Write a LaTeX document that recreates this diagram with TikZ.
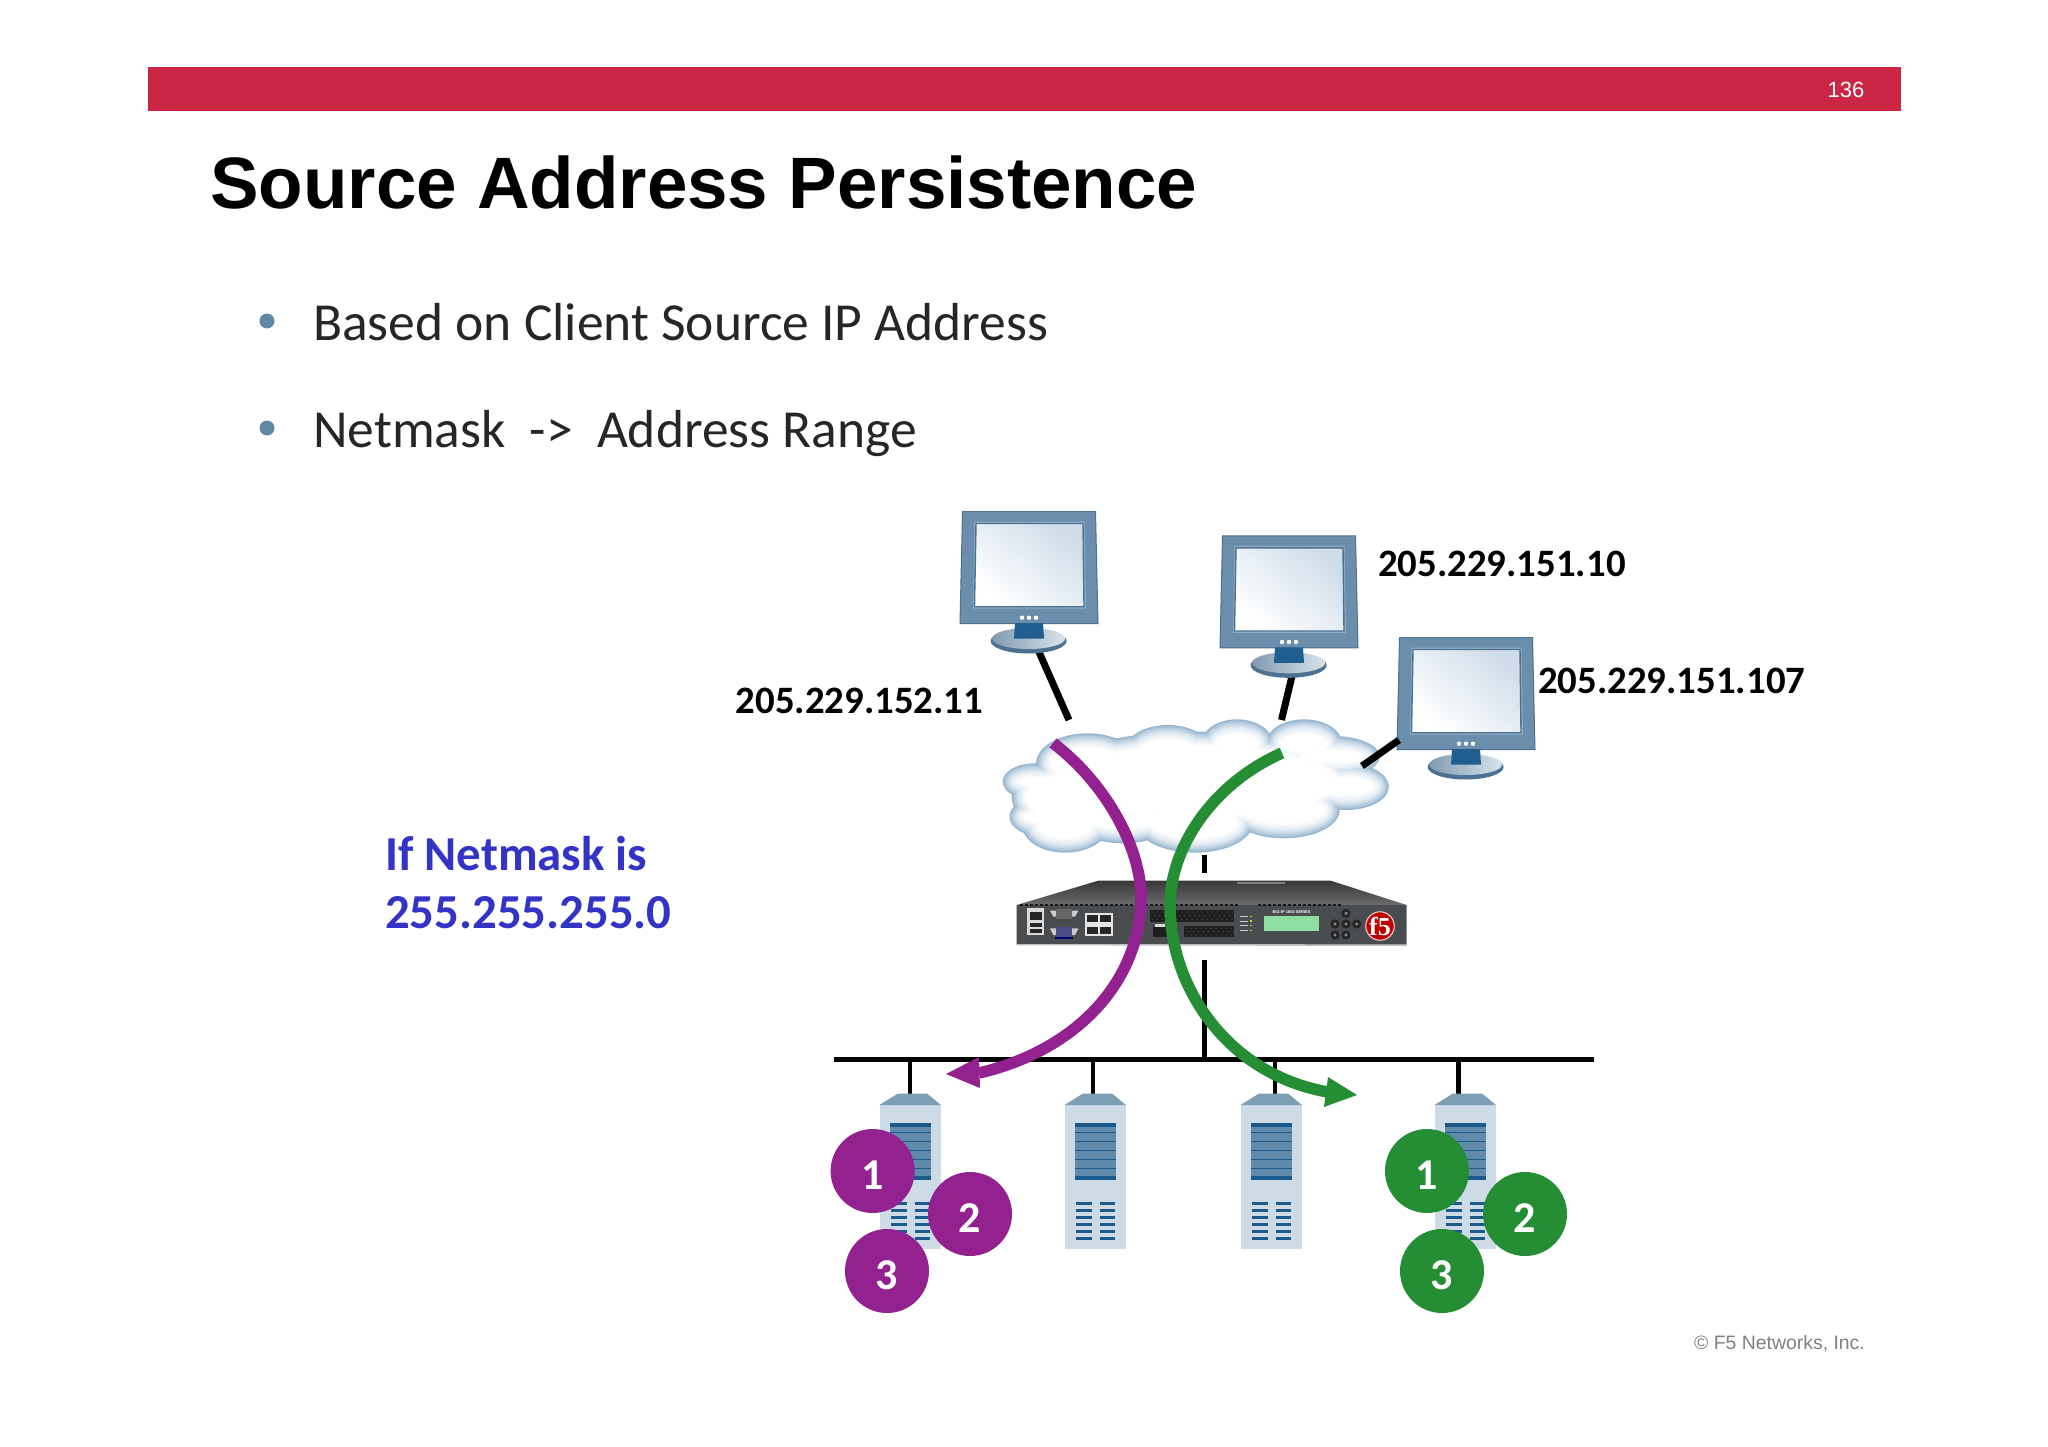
\documentclass[tikz,border=0pt]{standalone}
\usepackage{fontspec}
\setmainfont{Carlito}
\newfontfamily\arialf{Liberation Sans}
\newfontfamily\timesf{Liberation Serif}
\usetikzlibrary{calc}
\definecolor{barred}{HTML}{CB2744}
\definecolor{bodytext}{HTML}{262626}
\definecolor{bulletblue}{HTML}{5F88A3}
\definecolor{maskblue}{HTML}{3333C6}
\definecolor{flowpurple}{HTML}{93218F}
\definecolor{flowgreen}{HTML}{258E34}
\definecolor{monframe}{HTML}{6A8EAB}
\definecolor{monedge}{HTML}{4C7191}
\definecolor{monband}{HTML}{8FADC3}
\definecolor{monneck}{HTML}{1F5E8E}
\definecolor{cloudblue}{HTML}{7FA6C6}
\definecolor{srvbody}{HTML}{CCDBE6}
\definecolor{srvhat}{HTML}{7C9FB5}
\definecolor{srvpanel}{HTML}{5F8AAB}
\definecolor{srvline}{HTML}{1D5A8C}
\definecolor{boxfront}{HTML}{4A4D50}
\definecolor{copygray}{HTML}{808080}
\definecolor{lcdfill}{HTML}{8FDDA0}
\newcommand\badgedigit[1]{\raisebox{-18pt}[0pt][0pt]{#1}}
\tikzset{
  x=1pt,y=-1pt,
  txt/.style={inner sep=0pt,anchor=base west},
  iplabel/.style={txt,font=\fontsize{38.8}{38.8}\selectfont\bfseries,text=black},
  masklabel/.style={txt,font=\fontsize{48.8}{48.8}\selectfont\bfseries,text=maskblue},
  bullettext/.style={txt,font=\fontsize{53.5}{53.5}\selectfont,text=bodytext},
  bulletdot/.style={circle,fill=bulletblue,inner sep=0pt,minimum size=15pt},
  wire/.style={draw=black,line width=7pt},
  thin wire/.style={draw=black,line width=4.5pt},
  flowp/.style={draw=flowpurple,line width=11.5pt},
  flowg/.style={draw=flowgreen,line width=11.5pt},
  badge/.style={circle,inner sep=0pt,minimum size=84pt,text=white,font=\fontsize{44}{44}\selectfont\bfseries},
}
\newcommand\monitorat[2]{%
  \begin{scope}[shift={(#1,#2)}]
    \fill[monframe,draw=monedge,line width=1pt] (962.5,511.5)--(1095.5,511.5)--(1098,623.5)--(960,623.5)--cycle;
    \fill[monband] (974.5,521.5)--(1084.5,521.5)--(1086,608.5)--(973,608.5)--cycle;
    \shade[shading=axis,left color=cloudblue!38!white,right color=white,shading angle=-40,draw=monedge,line width=1.4pt]
      (976,523.5)--(1083,523.5)--(1084,606.7)--(974.5,606.7)--cycle;
    \foreach \dx in {1022,1029,1036}{\fill[white] (\dx,617.7) circle (2.2);}
    \fill[monedge] (1028.6,641) ellipse [x radius=38,y radius=12.5];
    \shade[left color=monedge!70!white,right color=monband!35!white] (1028.6,638.5) ellipse [x radius=36.5,y radius=10.5];
    \fill[monneck] (1015,623)--(1043,623)--(1044,638.5)--(1014,638.5)--cycle;
  \end{scope}}
\newcommand\cloudlayer[2]{%
  \foreach \X/\Y/\RX/\RY in {420/850/115/90,300/905/70/55,320/1010/75/60,370/1040/95/78,500/1020/110/70,660/1030/130/88,
    860/990/125/85,1000/920/95/70,970/830/105/62,905/790/85/72,755/790/80/72,600/810/95/75,660/905/350/150,
    420/950/170/120}{%
    \fill[#2] (\X,\Y) ellipse [x radius={max(\RX-2.24*#1,1)},y radius={max(\RY-3*#1,1)}];}}
\newcommand\serverat[1]{%
  \begin{scope}[shift={(#1,1.5)}]
    \fill[srvbody] (1064.5,1103) rectangle (1126,1247.7);
    \fill[srvhat] (1083,1092)--(1112,1092)--(1126,1103.5)--(1064.5,1103.5)--cycle;
    \fill[srvpanel] (1075,1121) rectangle (1115.5,1178);
    \fill[srvline] (1075,1121) rectangle (1115.5,1125);
    \fill[srvline] (1075,1174.5) rectangle (1115.5,1178);
    \foreach \yy in {1130,1139,1148,1157,1166}{\fill[srvline] (1075,\yy) rectangle (1115.5,\yy+1.6);}
    \foreach \yy in {1200.2,1207.2,1214.2,1221.2,1228.2,1235.2}{
      \fill[srvline] (1076.4,\yy) rectangle (1091.6,\yy+3.6);
      \fill[srvline] (1099.7,\yy) rectangle (1115.4,\yy+3.6);}
  \end{scope}}
\begin{document}
\begin{tikzpicture}
\useasboundingbox (0,0) rectangle (2048,1447);
\fill[white] (0,0) rectangle (2048,1447);
% header
\node[fill=barred,inner sep=0pt,minimum width=1753pt,minimum height=43.5pt,anchor=north west] (bar) at (148,67) {};
\node[inner sep=0pt,text=white,font=\arialf\fontsize{22}{22}\selectfont] (page) at (1846,89.5) {136};
\node[txt,font=\arialf\fontsize{72.8}{72.8}\selectfont\bfseries,text=black] (title) at (210,209) {Source Address Persistence};
% bullets
\node[bulletdot] (dot1) at (267,321) {};
\node[bullettext] (b1) at (313,340) {Based on Client Source IP Address};
\node[bulletdot] (dot2) at (267,428) {};
\node[bullettext] (b2) at (313,447) {Netmask\ \ ->\ \ Address Range};
% mask text
\node[masklabel] (m1) at (385,870) {If Netmask is};
\node[masklabel] (m2) at (385,928) {255.255.255.0};
% wires
\coordinate (m1foot) at (1039,652);
\coordinate (m1cloud) at (1069,720);
\coordinate (m2foot) at (1292,676);
\coordinate (m2cloud) at (1281.5,720);
\coordinate (m3side) at (1399,740);
\coordinate (m3cloud) at (1362,766);
\path[wire] (m1foot)--(m1cloud);
\path[wire] (m2foot)--(m2cloud);
% monitors
\monitorat{0}{0}
\monitorat{260}{24.3}
\monitorat{437}{126}
% cloud
\begin{scope}[shift={(900,480)},xscale=0.44643,yscale=0.33333]
  \foreach \ins/\c in {0/82,1.25/70,2.5/59,3.75/49,5/40,6.25/32,7.5/25,8.75/19,10/14,11.25/10,12.5/6,13.75/3,15/0}{
    \cloudlayer{\ins}{cloudblue!\c!white}}
\end{scope}
\path[wire] (m3side)--(m3cloud);
% centre line and bus
\coordinate (cloudlow) at (1204.5,855);
\coordinate (boxtop) at (1204.5,873);
\coordinate (boxlow) at (1204.5,960);
\coordinate (busjoin) at (1204.5,1059.5);
\coordinate (busl) at (834,1059.5);
\coordinate (busr) at (1594,1059.5);
\draw[black,line width=5pt] (cloudlow)--(boxtop);
\draw[black,line width=5pt] (boxlow)--(busjoin);
\draw[black,line width=5.5pt] (busl)--(busr);
\foreach \dropx/\dn in {910/a,1093/b,1275/c,1458.5/d}{
  \coordinate (drop\dn) at (\dropx,1059.5);
  \coordinate (srvtop\dn) at (\dropx,1094.5);
  \path[thin wire] (drop\dn)--(srvtop\dn);}
% servers
\serverat{-185}
\serverat{0}
\serverat{176}
\serverat{370}
% F5 box
\begin{scope}[shift={(1000,870)},xscale=0.33333,yscale=0.33333]
  \shade[top color=black!78,bottom color=black!58] (295,32)--(992,32)--(1220,105)--(50,105)--cycle;
  \fill[black!50] (710,35) rectangle (855,42);
  \fill[boxfront] (50,105)--(1220,105)--(1220,224)--(50,222)--cycle;
  \fill[black!25] (50,222)--(1220,224)--(1220,228)--(50,226)--cycle;
  \foreach \a/\b in {60/445,450/715,775/1025}{
    \draw[black!90,line width=1.5pt,dash pattern=on 3pt off 2pt] (\a,105)--(\b,105);}
  % mgmt ports
  \fill[black!15] (82,115) rectangle (132,196);
  \fill[black!85] (90,125) rectangle (125,150);
  \fill[black!85] (90,158) rectangle (125,170);
  \fill[black!85] (90,176) rectangle (125,190);
  % serial ports
  \fill[black!20] (150,122)--(235,122)--(225,140)--(160,140)--cycle;
  \fill[black!60] (168,117) rectangle (215,146);
  \fill[black!20] (150,175)--(235,175)--(225,195)--(160,195)--cycle;
  \fill[blue!30!black!70] (168,170) rectangle (215,200);
  \fill[blue!45!black] (165,200) rectangle (218,206);
  % copper ports
  \fill[black!10] (255,128) rectangle (338,197);
  \foreach \px/\py in {260/134,300/134,260/170,300/170}{\fill[black!85] (\px,\py) rectangle (\px+33,\py+22);}
  % grids
  \fill[black!88] (450,120) rectangle (702,155);
  \fill[black!88] (552,167) rectangle (702,200);
  \fill[black!88] (458,172) rectangle (530,202);
  \fill[black!15] (465,163) rectangle (495,170);
  \foreach \gx in {456,471,...,696}{
    \fill[black!55] (\gx,126) circle (1.5);
    \fill[black!55] (\gx+7,137) circle (1.5);
    \fill[black!55] (\gx,148) circle (1.5);}
  \foreach \gx in {558,573,...,696}{
    \fill[black!55] (\gx,175) circle (1.5);
    \fill[black!55] (\gx+7,185) circle (1.5);
    \fill[black!55] (\gx,195) circle (1.5);}
  % LEDs
  \foreach \ly in {140,153,167,181}{
    \fill[black!20] (720,\ly-1) rectangle (745,\ly+2);
    \fill[yellow!75!green] (751,\ly-2) rectangle (757,\ly+2);}
  % LCD
  \fill[lcdfill] (793,138) rectangle (958,183);
  % buttons
  \foreach \bx/\by in {1038/130,1005/162,1038/162,1070/162,1005/195,1038/195}{
    \fill[black!85] (\bx,\by) circle (14);
    \fill[black!45] (\bx,\by) circle (5);}
\end{scope}
\node[inner sep=0pt,text=white,font=\arialf\fontsize{4}{4}\selectfont\bfseries] (model) at (1291.5,912) {BIG-IP 1600 SERIES};
\node[circle,fill=red!75!black,draw=white!85!red,line width=1pt,minimum size=27pt,inner sep=0pt,
  text=white,font=\timesf\fontsize{26}{26}\selectfont\bfseries] (f5logo) at (1380,926) {f5};
% flows
\coordinate (pstart) at (1053,743);
\coordinate (pmid) at (1141,897);
\coordinate (pend) at (979,1073);
\coordinate (ptip) at (946,1074);
\coordinate (pa) at (979,1057);
\coordinate (pb) at (980,1088);
\draw[flowp] (pstart) .. controls (1108,785) and (1141,850) .. (pmid) .. controls (1141,980) and (1078,1050) .. (pend);
\fill[flowpurple] (ptip)--(pa)--(pb)--cycle;
\coordinate (gstart) at (1282,753);
\coordinate (gmid) at (1170,905);
\coordinate (gend) at (1328,1092);
\coordinate (gtip) at (1357,1095);
\coordinate (ga) at (1328,1077);
\coordinate (gb) at (1324,1107);
\draw[flowg] (gstart) .. controls (1210,785) and (1170,850) .. (gmid) .. controls (1170,990) and (1230,1075) .. (gend);
\fill[flowgreen] (gtip)--(ga)--(gb)--cycle;
% badges
\node[badge,fill=flowpurple] (p1) at (872.6,1171) {\badgedigit{1}};
\node[badge,fill=flowpurple] (p2) at (970,1214) {\badgedigit{2}};
\node[badge,fill=flowpurple] (p3) at (887,1271) {\badgedigit{3}};
\node[badge,fill=flowgreen] (g1) at (1427,1171) {\badgedigit{1}};
\node[badge,fill=flowgreen] (g2) at (1525,1214) {\badgedigit{2}};
\node[badge,fill=flowgreen] (g3) at (1442,1271) {\badgedigit{3}};
% ip labels
\node[iplabel] (ip1) at (1378,576) {205.229.151.10};
\node[iplabel] (ip2) at (1538,693) {205.229.151.107};
\node[iplabel] (ip3) at (735.5,713) {205.229.152.11};
% copyright
\node[inner sep=0pt,anchor=base east,text=copygray,font=\arialf\fontsize{19.4}{19.4}\selectfont] (copy) at (1865,1349) {© F5 Networks, Inc.};
\end{tikzpicture}
\end{document}
